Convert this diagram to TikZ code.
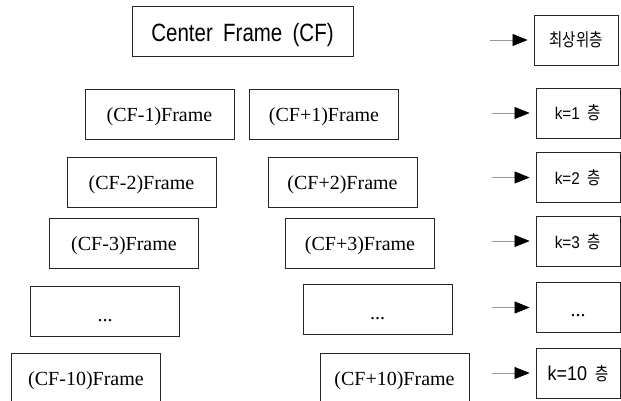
\documentclass[tikz,border=0pt]{standalone}
\usepackage{fontspec}
\setmainfont{Liberation Serif}
\newfontfamily\cfsans[FakeStretch=0.82,WordSpace=1.8]{Liberation Sans}
\newfontfamily\labsans[FakeStretch=0.9]{Liberation Sans}
\newfontfamily\kofont[FakeStretch=0.8]{Noto Sans CJK KR}
\usetikzlibrary{arrows.meta}

\newcommand{\layerlabel}[2]{{\labsans\fontsize{#1}{#1}\selectfont #2}\hspace{8pt}층}

\tikzset{
  framebox/.style={draw=black!85, line width=0.8pt, inner sep=0pt,
    minimum width=149pt, minimum height=50pt,
    font=\fontsize{20}{24}\selectfont, text height=17pt, text depth=2pt},
  dotbox/.style={framebox, text height=20pt, text depth=0pt},
  centerbox/.style={draw=black!85, line width=0.8pt, inner sep=0pt,
    minimum width=221pt, minimum height=50pt,
    font=\cfsans\fontsize{25}{30}\selectfont, text height=22pt, text depth=0pt},
  layerbox/.style={draw=black!85, line width=0.8pt, inner sep=0pt,
    minimum width=84pt, minimum height=50pt,
    font=\kofont\fontsize{18}{20}\selectfont, text height=14pt, text depth=0pt},
  layerdots/.style={layerbox, font=\fontsize{20}{24}\selectfont, text height=17pt},
  pointer/.style={draw=black!40, line width=0.6pt, shorten >=6pt,
    -{Triangle[length=15pt,width=12pt,fill=black,color=black]}},
}

\begin{document}
\begin{tikzpicture}[x=1pt,y=-1pt]
  \useasboundingbox (0,0) rectangle (621,401);
  \clip (0,0) rectangle (621,401);

  % central frame
  \node[centerbox] (cf) at (242.5,31) {Center Frame (CF)};

  % frames before the centre
  \node[framebox] (l1) at (159.5,114.5) {(CF-1)Frame};
  \node[framebox] (l2) at (141.5,182) {(CF-2)Frame};
  \node[framebox] (l3) at (124,243) {(CF-3)Frame};
  \node[dotbox]   (l4) at (105,311) {...};
  \node[framebox] (l5) at (86,378) {(CF-10)Frame};

  % frames after the centre
  \node[framebox] (m1) at (324,114) {(CF+1)Frame};
  \node[framebox] (m2) at (342.5,182) {(CF+2)Frame};
  \node[framebox] (m3) at (360,243) {(CF+3)Frame};
  \node[dotbox]   (m4) at (377.5,309.5) {...};
  \node[framebox] (m5) at (394.5,378) {(CF+10)Frame};

  % layer labels
  \node[layerbox]  (r0) at (576,40)    {최상위층};
  \node[layerbox]  (r1) at (578,113)   {\layerlabel{17}{k=1}};
  \node[layerbox]  (r2) at (578,177.5) {\layerlabel{17}{k=2}};
  \node[layerbox]  (r3) at (578,241)   {\layerlabel{17}{k=3}};
  \node[layerdots] (r4) at (578,307.5) {...};
  \node[layerbox]  (r5) at (578,373)   {\layerlabel{20}{k=10}};

  % pointers into the layer labels
  \foreach \r in {r0,r1,r2,r3,r4,r5} {
    \path (\r.west) ++(-44,0) coordinate (s\r);
    \draw[pointer] (s\r) -- (\r);
  }
\end{tikzpicture}
\end{document}
